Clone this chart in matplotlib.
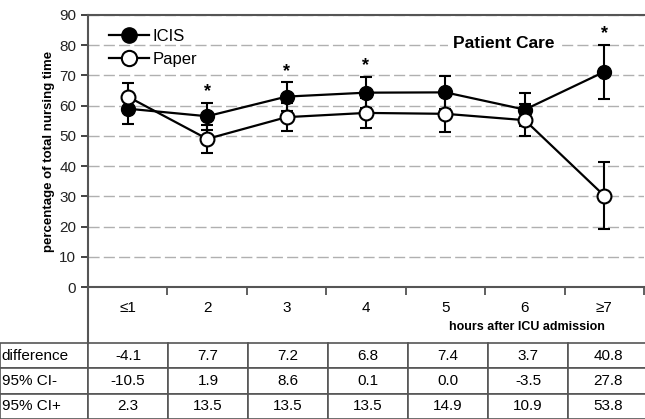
import numpy as np
import matplotlib.pyplot as plt
from matplotlib.lines import Line2D

plt.rcParams['font.family'] = ['Liberation Sans', 'DejaVu Sans']

# data
hours = ['\u22641', '2', '3', '4', '5', '6', '\u22657']
icis = [59, 56.5, 63, 64.3, 64.4, 58.7, 71.2]
icis_err = [5, 4.5, 4.7, 5.2, 5.5, 5.4, 9]
paper = [63, 49, 56.2, 57.6, 57.3, 55.2, 30.2]
paper_err = [4.5, 4.5, 4.7, 5.1, 5.9, 5.2, 11]
significant = [False, True, True, True, False, False, True]

row_labels = ['difference', '95% CI-', '95% CI+']
difference = ['-4.1', '7.7', '7.2', '6.8', '7.4', '3.7', '40.8']
ci_low = ['-10.5', '1.9', '8.6', '0.1', '0.0', '-3.5', '27.8']
ci_high = ['2.3', '13.5', '13.5', '13.5', '14.9', '10.9', '53.8']

W, H = 645, 419
fig = plt.figure(figsize=(W / 100, H / 100), dpi=100)
ax = fig.add_axes([88 / W, 1 - 287 / H, 556 / W, 272 / H])

x = np.arange(1, len(hours) + 1)
ax.errorbar(x, icis, yerr=icis_err, fmt='-o', color='black', mfc='black',
            mec='black', ms=10, lw=1.6, elinewidth=1.5, capsize=4, capthick=1.5,
            zorder=3)
ax.errorbar(x, paper, yerr=paper_err, fmt='-o', color='black', mfc='white',
            mec='black', ms=10, mew=1.5, lw=1.6, elinewidth=1.5, capsize=4,
            capthick=1.5, zorder=4)

for xi, v, e, s in zip(x, icis, icis_err, significant):
    if s:
        ax.text(xi, v + e + 0.8, '*', ha='center', va='bottom', fontsize=13,
                fontweight='bold')

ax.set_xlim(0.5, len(hours) + 0.5)
ax.set_ylim(0, 90)
ax.set_yticks(np.arange(0, 91, 10))
ax.set_xticks(np.arange(0.5, len(hours) + 1, 1))
ax.set_xticklabels([])
ax.tick_params(axis='y', direction='out', length=5, width=1.2, labelsize=11,
               colors='#222222')
ax.tick_params(axis='x', direction='out', length=6, width=1.2, colors='#444444')
ax.yaxis.grid(True, linestyle=(0, (8, 3)), color='#b0b0b0', lw=1)
ax.set_axisbelow(True)
for sp in ax.spines.values():
    sp.set_color('#555555')
    sp.set_linewidth(1.5)
ax.spines['right'].set_visible(False)

ax.set_ylabel('percentage of total nursing time', fontsize=9.5,
              fontweight='bold', labelpad=3)
ax.text(5.73, 80.5, 'Patient Care', ha='center', va='center', fontsize=12.5,
        fontweight='bold', bbox=dict(fc='white', ec='none', pad=3))

handles = [
    Line2D([], [], color='black', marker='o', mfc='black', mec='black',
           ms=11, lw=1.6),
    Line2D([], [], color='black', marker='o', mfc='white', mec='black',
           ms=11, mew=1.5, lw=1.6),
]
ax.legend(handles, ['ICIS', 'Paper'], loc='upper left',
          bbox_to_anchor=(0.02, 0.985), frameon=False, fontsize=12,
          handlelength=2.4, handletextpad=0.2, labelspacing=0.45,
          borderaxespad=0.2)

# category labels under the axis
for xi, lab in zip(x, hours):
    ax.annotate(lab, xy=(xi, 0), xycoords='data', xytext=(0, -15),
                textcoords='offset points', ha='center', va='center',
                fontsize=11)
fig.text(527 / W, 1 - 327 / H, 'hours after ICU admission', ha='center',
         va='center', fontsize=9, fontweight='bold')
fig.add_artist(Line2D([88 / W, 88 / W], [1 - 287 / H, 1 - 343 / H],
                      transform=fig.transFigure, color='#555555', lw=1.5))

# table
tax = fig.add_axes([0, 0, 1, 76 / H])
tax.axis('off')
cells = [difference, ci_low, ci_high]
table_text = [[lab] + row for lab, row in zip(row_labels, cells)]
col_w = [88 / W] + [80 / W] * len(hours)
tbl = tax.table(cellText=table_text, colWidths=col_w, cellLoc='center',
                bbox=[0, 0, sum(col_w), 1])
tbl.auto_set_font_size(False)
tbl.set_fontsize(11)
for (r, c), cell in tbl.get_celld().items():
    cell.set_edgecolor('#555555')
    cell.set_linewidth(1.2)
    if c == 0:
        cell.set_text_props(ha='left')
        cell.PAD = 0.02

fig.savefig('out.png', dpi=100)
